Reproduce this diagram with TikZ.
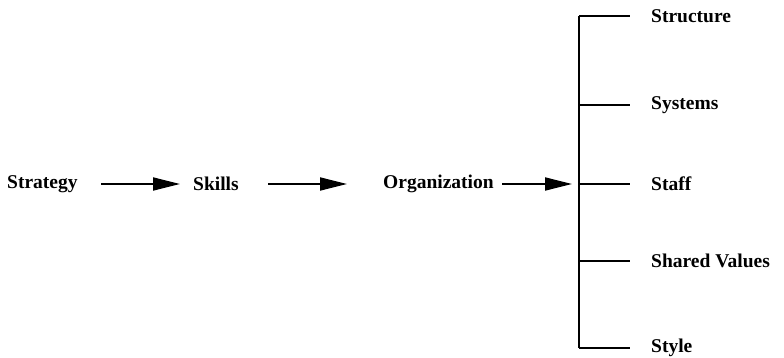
\documentclass[tikz,border=0pt]{standalone}
\usepackage{fontspec}
\setmainfont{Liberation Serif}
\usetikzlibrary{arrows.meta}
\begin{document}
\begin{tikzpicture}[x=1pt,y=-1pt,
  lbl/.style={font=\bfseries\fontsize{19.5}{21}\selectfont, inner sep=0pt},
  flow/.style={line width=1.8pt, -{Triangle[length=27pt,width=13pt]}},
  branch/.style={line width=1.8pt}]
\useasboundingbox (0,0) rectangle (784,358);
% main chain
\node[lbl, anchor=west] (strategy) at (7,184) {Strategy};
\node[lbl, anchor=west] (skills) at (193,184) {Skills};
\node[lbl, anchor=west] (org) at (383,184) {Organization};
% bracket spine
\coordinate (top) at (579,16);
\coordinate (bot) at (579,348);
\draw[branch] (top) -- (bot);
% arrow end points
\coordinate (a1s) at (101,184);
\coordinate (a1e) at (180,184);
\coordinate (a2s) at (268,184);
\coordinate (a2e) at (347,184);
\coordinate (a3s) at (502,184);
\coordinate (a3e) at (572,184);
\draw[flow] (a1s) -- (a1e);
\draw[flow] (a2s) -- (a2e);
\draw[flow] (a3s) -- (a3e);
% branches
\foreach \name/\y/\txt in {s1/16/Structure, s2/105/Systems, s3/184/Staff, s4/261/Shared Values, s5/348/Style}{
  \coordinate (\name b) at (579,\y);
  \coordinate (\name e) at (630,\y);
  \draw[branch] (\name b) -- (\name e);
  \node[lbl, anchor=west] (\name) at (651,\y) {\txt};
}
\end{tikzpicture}
\end{document}
